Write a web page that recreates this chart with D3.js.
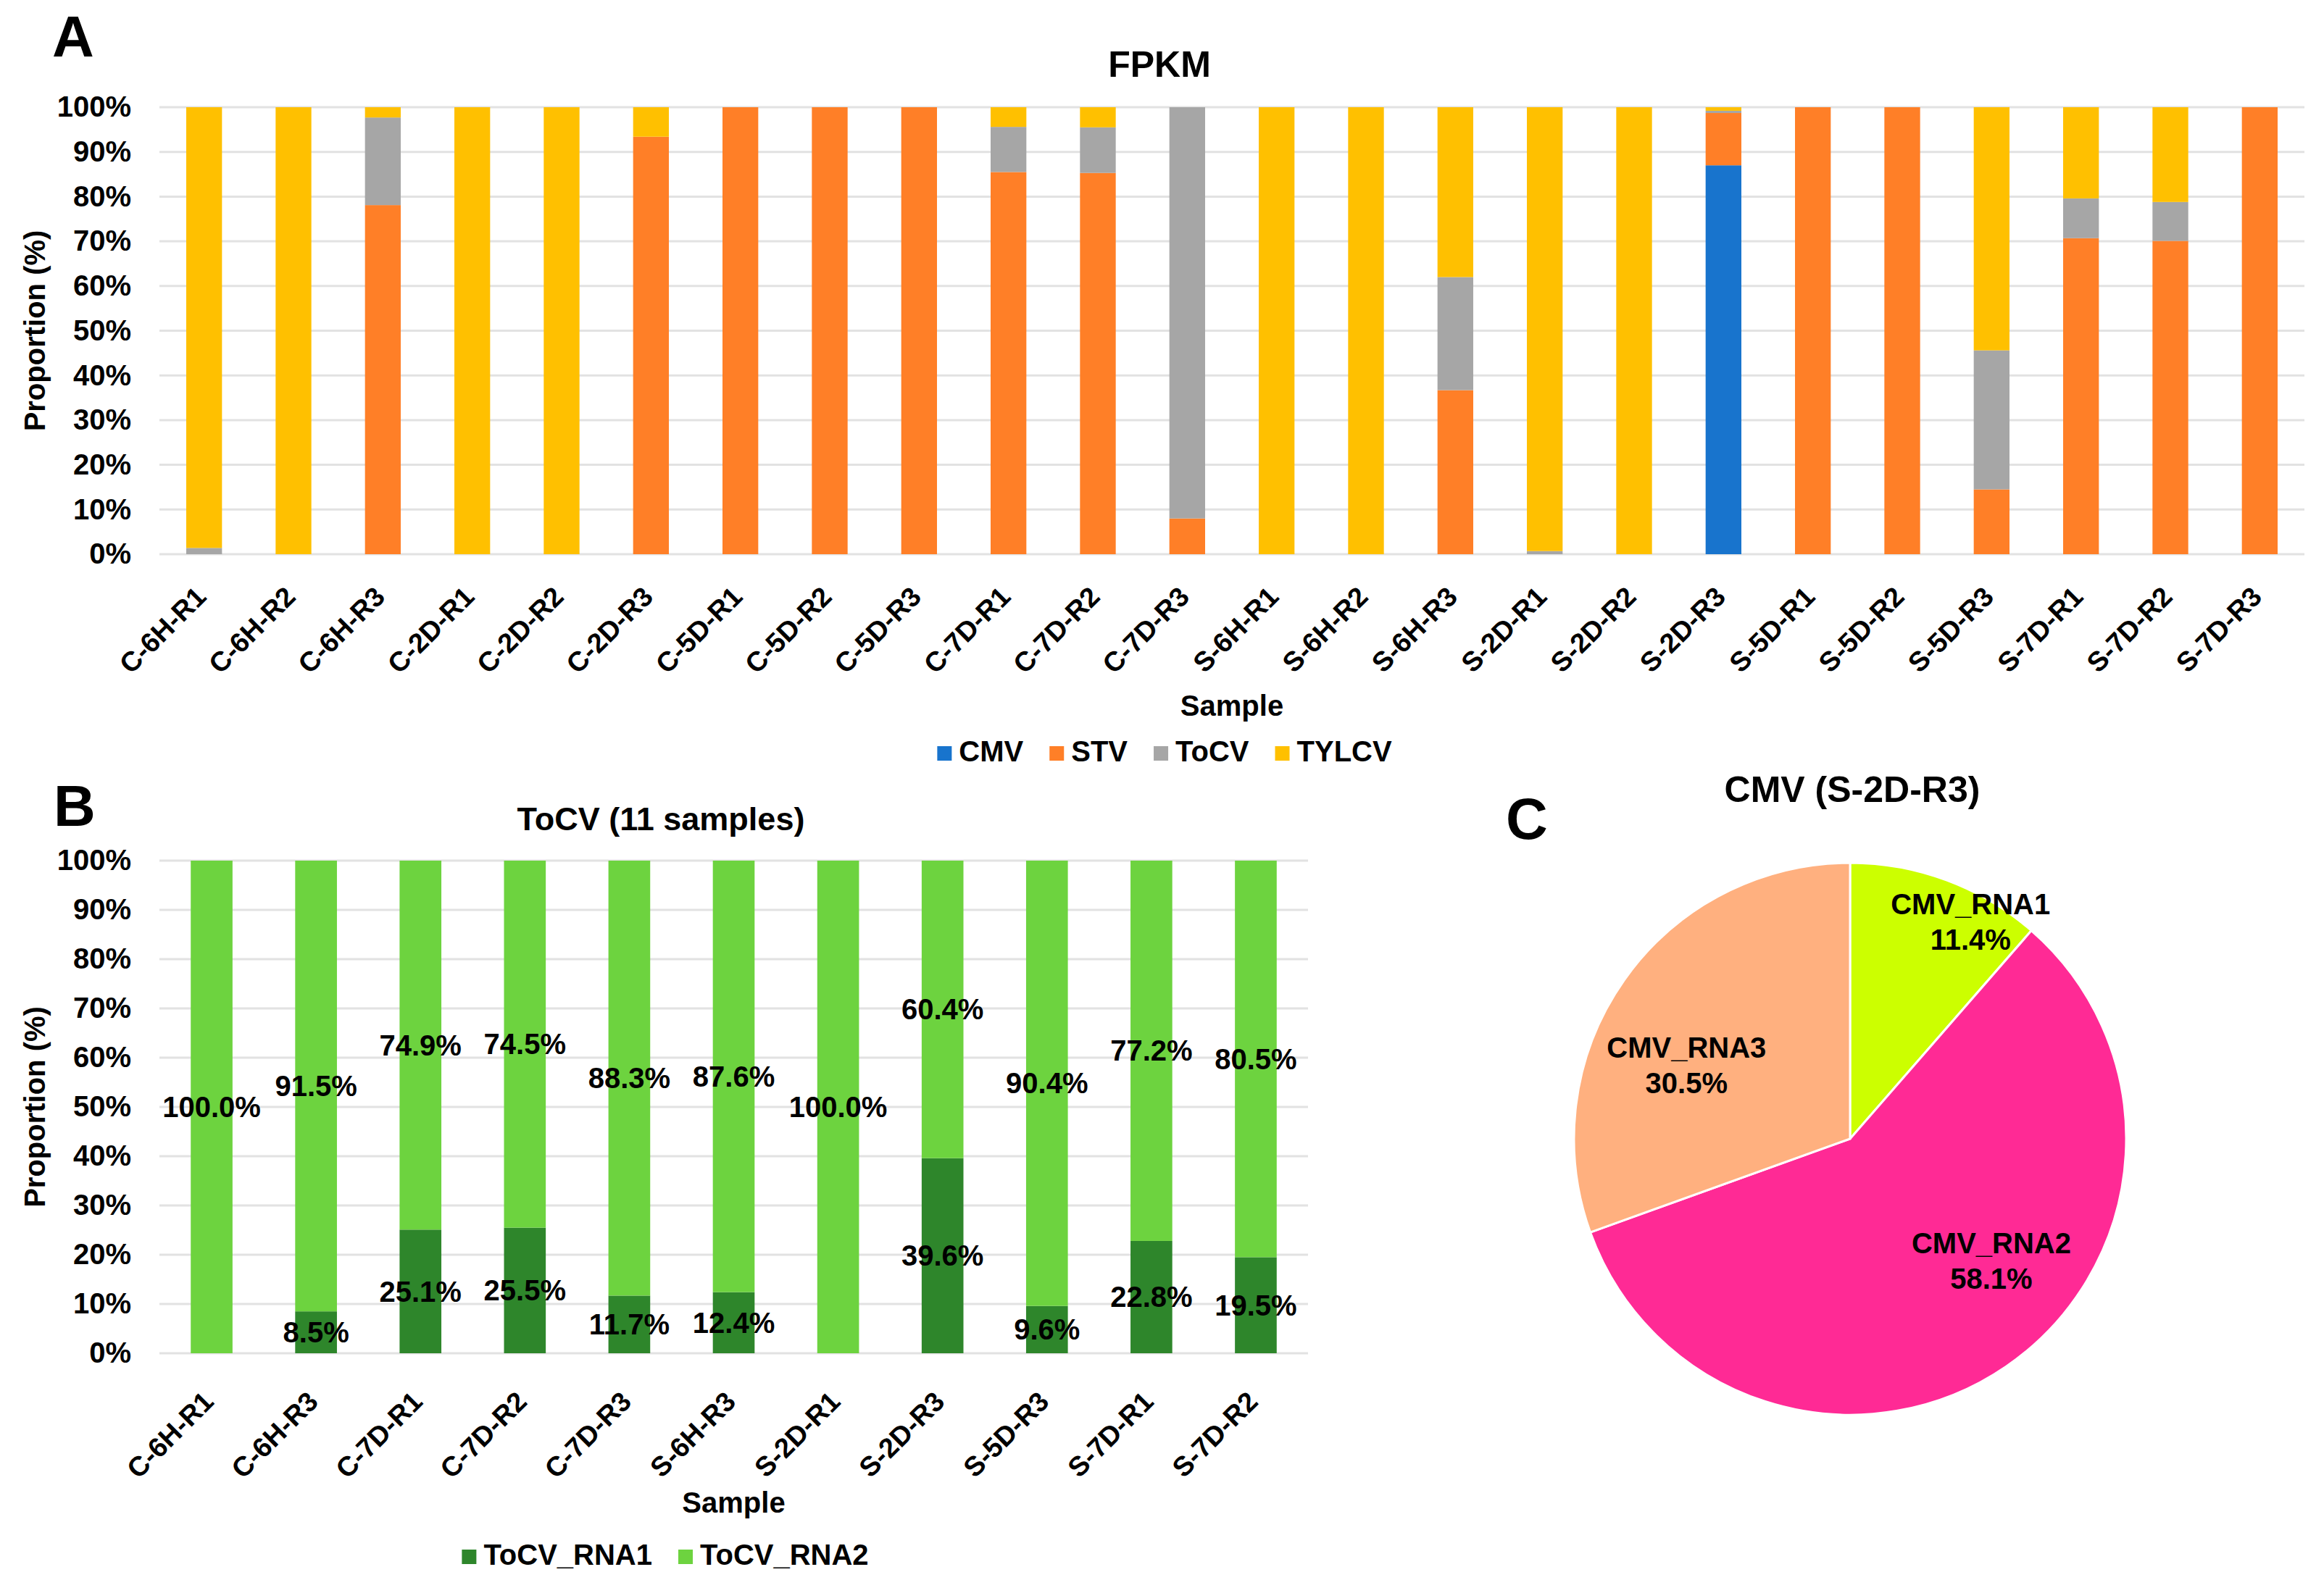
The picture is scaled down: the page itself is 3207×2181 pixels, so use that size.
<!DOCTYPE html>
<html>
<head>
<meta charset="utf-8">
<script src="https://cdn.jsdelivr.net/npm/d3@7"></script>
<style>
  html, body { margin: 0; padding: 0; background: #fff; }
  text { font-family: 'Liberation Sans', Arial, sans-serif; font-weight: bold; fill: #000; }
</style>
</head>
<body>
<script>
// Panel A - FPKM proportion per sample
const samplesA = ['C-6H-R1', 'C-6H-R2', 'C-6H-R3', 'C-2D-R1', 'C-2D-R2', 'C-2D-R3',
  'C-5D-R1', 'C-5D-R2', 'C-5D-R3', 'C-7D-R1', 'C-7D-R2', 'C-7D-R3',
  'S-6H-R1', 'S-6H-R2', 'S-6H-R3', 'S-2D-R1', 'S-2D-R2', 'S-2D-R3',
  'S-5D-R1', 'S-5D-R2', 'S-5D-R3', 'S-7D-R1', 'S-7D-R2', 'S-7D-R3']
const virusesA = ['CMV', 'STV', 'ToCV', 'TYLCV']
const cmvA = [0, 0, 0, 0, 0, 0, 0, 0, 0, 0, 0, 0, 0, 0, 0, 0, 0, 87.0, 0, 0, 0, 0, 0, 0]
const stvA = [0, 0, 78.1, 0, 0, 93.4, 100, 100, 100, 85.5, 85.3, 8.0, 0, 0, 36.7, 0, 0, 11.7, 100, 100, 14.5, 70.7, 70.1, 100]
const tocvA = [1.4, 0, 19.6, 0, 0, 0, 0, 0, 0, 10.1, 10.2, 92.0, 0, 0, 25.3, 0.7, 0, 0.5, 0, 0, 31.1, 8.9, 8.7, 0]
const tylcvA = [98.6, 100, 2.3, 100, 100, 6.6, 0, 0, 0, 4.4, 4.5, 0, 100, 100, 38.0, 99.3, 100, 0.8, 0, 0, 54.4, 20.4, 21.2, 0]

// Panel B - ToCV RNA1 / RNA2 in 11 samples
const samplesB = ['C-6H-R1', 'C-6H-R3', 'C-7D-R1', 'C-7D-R2', 'C-7D-R3', 'S-6H-R3',
  'S-2D-R1', 'S-2D-R3', 'S-5D-R3', 'S-7D-R1', 'S-7D-R2']
const segmentsB = ['ToCV_RNA1', 'ToCV_RNA2']
const rna1B = [0, 8.5, 25.1, 25.5, 11.7, 12.4, 0, 39.6, 9.6, 22.8, 19.5]
const rna2B = [100.0, 91.5, 74.9, 74.5, 88.3, 87.6, 100.0, 60.4, 90.4, 77.2, 80.5]

// Panel C - CMV segments in S-2D-R3
const pieNames = ['CMV_RNA1', 'CMV_RNA2', 'CMV_RNA3']
const pieValues = [11.4, 58.1, 30.5]

const yTicks = [0, 10, 20, 30, 40, 50, 60, 70, 80, 90, 100]

const colorsA = ['#1874CD', '#FF7F27', '#A6A6A6', '#FFC000']
const colorsB = ['#2E862B', '#6DD33F']
const colorsC = ['#CCFF00', '#FF2A95', '#FFB07F']

const W = 3207, H = 2181
const svg = d3.select('body').append('svg')
  .attr('width', W).attr('height', H)
  .attr('viewBox', `0 0 ${W} ${H}`)

// shared helper for a 100% stacked bar chart
function stackedChart(opts) {
  const g = svg.append('g')
  const rows = opts.samples.map((s, i) => {
    const r = { sample: s }
    opts.keys.forEach((k, j) => (r[k] = opts.series[j][i]))
    return r
  })
  const x = d3.scaleBand().domain(opts.samples).range(opts.xRange).paddingInner(0.6).paddingOuter(0.3)
  const y = d3.scaleLinear().domain([0, 100]).range(opts.yRange)

  // gridlines
  g.selectAll('.grid').data(yTicks).enter().append('line')
    .attr('x1', opts.xRange[0]).attr('x2', opts.xRange[1])
    .attr('y1', (d) => y(d)).attr('y2', (d) => y(d))
    .attr('stroke', '#E2E2E2').attr('stroke-width', 3)

  // y axis tick labels
  const yAxis = g.append('g')
    .attr('transform', `translate(${opts.xRange[0]},0)`)
    .call(d3.axisLeft(y).tickValues(yTicks).tickFormat((d) => d + '%').tickSize(0).tickPadding(39))
  yAxis.select('.domain').remove()
  yAxis.selectAll('text').attr('font-size', 40).attr('font-family', null)

  // stacked bars
  const stack = d3.stack().keys(opts.keys)(rows)
  const layers = g.selectAll('.layer').data(stack).enter().append('g')
    .attr('fill', (d, i) => opts.colors[i])
  layers.selectAll('rect').data((d) => d).enter().append('rect')
    .attr('x', (d) => x(d.data.sample))
    .attr('width', x.bandwidth())
    .attr('y', (d) => y(d[1]))
    .attr('height', (d) => y(d[0]) - y(d[1]))

  // x labels rotated -45
  g.selectAll('.xl').data(opts.samples).enter().append('text')
    .attr('transform', (d) => `translate(${x(d) + x.bandwidth() / 2 + opts.labelDx},${opts.yRange[0] + opts.labelDy}) rotate(-45)`)
    .attr('text-anchor', 'end')
    .attr('font-size', 38)
    .text((d) => d)

  // axis titles
  g.append('text')
    .attr('transform', `translate(62,${(opts.yRange[0] + opts.yRange[1]) / 2}) rotate(-90)`)
    .attr('text-anchor', 'middle').attr('font-size', 40)
    .text('Proportion (%)')
  g.append('text')
    .attr('x', (opts.xRange[0] + opts.xRange[1]) / 2).attr('y', opts.sampleY)
    .attr('text-anchor', 'middle').attr('font-size', 40)
    .text('Sample')

  // chart title
  g.append('text')
    .attr('x', opts.titleX).attr('y', opts.titleY)
    .attr('text-anchor', 'middle').attr('font-size', opts.titleSize)
    .text(opts.title)

  // legend, centred
  const leg = g.append('g')
  let cx = 0
  opts.keys.forEach((k, i) => {
    const item = leg.append('g').attr('transform', `translate(${cx},0)`)
    item.append('rect').attr('x', 0).attr('y', -21).attr('width', 20).attr('height', 20)
      .attr('fill', opts.colors[i])
    const t = item.append('text').attr('x', 30).attr('y', 0).attr('font-size', 40).text(k)
    cx += 30 + t.node().getComputedTextLength() + 36
  })
  cx -= 36
  leg.attr('transform', `translate(${opts.legendX - cx / 2},${opts.legendY})`)

  return { g, x, y, stack }
}

// ---- Panel A
stackedChart({
  samples: samplesA, keys: virusesA, series: [cmvA, stvA, tocvA, tylcvA], colors: colorsA,
  xRange: [220, 3180], yRange: [765, 148],
  labelDx: 5, labelDy: 61, sampleY: 988,
  title: 'FPKM', titleX: 1600, titleY: 106, titleSize: 50,
  legendX: 1607, legendY: 1051,
})

// ---- Panel B
const chartB = stackedChart({
  samples: samplesB, keys: segmentsB, series: [rna1B, rna2B], colors: colorsB,
  xRange: [220, 1805], yRange: [1868, 1188],
  labelDx: 5, labelDy: 69, sampleY: 2088,
  title: 'ToCV (11 samples)', titleX: 912, titleY: 1146, titleSize: 45,
  legendX: 918, legendY: 2160,
})

// data labels for panel B
chartB.stack.forEach((layer) => {
  chartB.g.append('g').selectAll('text').data(layer.filter((d) => d[1] - d[0] > 0)).enter()
    .append('text')
    .attr('x', (d) => chartB.x(d.data.sample) + chartB.x.bandwidth() / 2)
    .attr('y', (d) => chartB.y((d[0] + d[1]) / 2))
    .attr('dy', '0.35em')
    .attr('text-anchor', 'middle').attr('font-size', 40)
    .text((d) => (d[1] - d[0]).toFixed(1) + '%')
})

// ---- Panel C pie
const cx = 2553, cy = 1572, radius = 381
const pieG = svg.append('g').attr('transform', `translate(${cx},${cy})`)
const pie = d3.pie().sort(null).value((d) => d)(pieValues)
const arc = d3.arc().innerRadius(0).outerRadius(radius)
pieG.selectAll('path').data(pie).enter().append('path')
  .attr('d', arc)
  .attr('fill', (d, i) => colorsC[i])
  .attr('stroke', '#fff').attr('stroke-width', 3)

// label anchor: angle (deg from 12 o'clock, clockwise) and radius fraction
const pieLabelSpots = [[29, 0.9], [130.7, 0.675], [294.3, 0.65]]
pie.forEach((d, i) => {
  const a = (pieLabelSpots[i][0] * Math.PI) / 180
  const r = radius * pieLabelSpots[i][1]
  const lx = Math.sin(a) * r, ly = -Math.cos(a) * r
  const t = pieG.append('text').attr('text-anchor', 'middle').attr('font-size', 40)
  t.append('tspan').attr('x', lx).attr('y', ly - 10).text(pieNames[i])
  t.append('tspan').attr('x', lx).attr('y', ly + 39).text(d.data.toFixed(1) + '%')
})
svg.append('text').attr('x', 2556).attr('y', 1107)
  .attr('text-anchor', 'middle').attr('font-size', 50)
  .text('CMV (S-2D-R3)')

// panel letters
svg.append('text').attr('x', 72).attr('y', 78).attr('font-size', 80).text('A')
svg.append('text').attr('x', 74).attr('y', 1140).attr('font-size', 80).text('B')
svg.append('text').attr('x', 2078).attr('y', 1158).attr('font-size', 80).text('C')
</script>
</body>
</html>
